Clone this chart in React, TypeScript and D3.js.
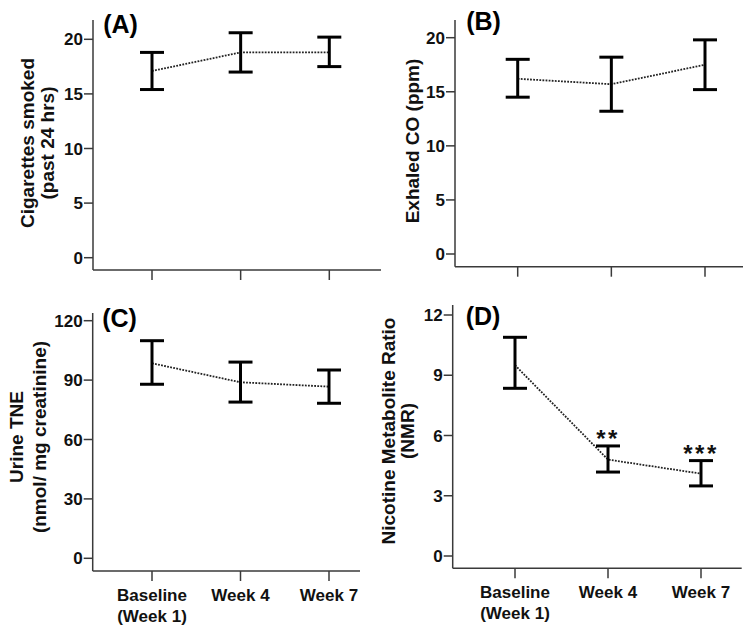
import * as d3 from "d3";

// time points
const categories = ["Baseline (Week 1)", "Week 4", "Week 7"];
const categoryLines = [["Baseline", "(Week 1)"], ["Week 4"], ["Week 7"]];

// (A) cigarettes smoked, past 24 hrs
const cigMean = [17.1, 18.8, 18.8];
const cigLow = [15.4, 17.0, 17.5];
const cigHigh = [18.8, 20.6, 20.2];
const cigTicks = [0, 5, 10, 15, 20];

// (B) exhaled CO, ppm
const coMean = [16.2, 15.7, 17.5];
const coLow = [14.5, 13.2, 15.2];
const coHigh = [18.0, 18.2, 19.8];
const coTicks = [0, 5, 10, 15, 20];

// (C) urine TNE, nmol/mg creatinine
const tneMean = [98.5, 88.9, 86.7];
const tneLow = [87.9, 78.9, 78.3];
const tneHigh = [109.9, 99.1, 95.1];
const tneTicks = [0, 30, 60, 90, 120];

// (D) nicotine metabolite ratio
const nmrMean = [9.5, 4.8, 4.1];
const nmrLow = [8.35, 4.18, 3.49];
const nmrHigh = [10.89, 5.48, 4.75];
const nmrTicks = [0, 3, 6, 9, 12];
const nmrStars = ["", "**", "***"];

const FONT = "'Liberation Sans', Arial, Helvetica, sans-serif";

type Panel = {
  tag: string;
  mean: number[];
  low: number[];
  high: number[];
  ticks: number[];
  stars?: string[];
  title: string[];
  showX: boolean;
  // layout
  axisX: number;
  axisEnd: number;
  axisTop: number;
  yTop: number;
  yBottom: number;
  axisY: number;
  cat: [number, number];
  titleX: number[];
  titleY: number;
  tagPos: [number, number];
};

const panels: Panel[] = [
  {
    tag: "(A)", mean: cigMean, low: cigLow, high: cigHigh, ticks: cigTicks,
    title: ["Cigarettes smoked", "(past 24 hrs)"], showX: false,
    axisX: 93, axisEnd: 381, axisTop: 20, yTop: 39.3, yBottom: 257.7, axisY: 270,
    cat: [152, 329.3], titleX: [27, 47], titleY: 143, tagPos: [120.5, 24],
  },
  {
    tag: "(B)", mean: coMean, low: coLow, high: coHigh, ticks: coTicks,
    title: ["Exhaled CO (ppm)"], showX: false,
    axisX: 455, axisEnd: 743, axisTop: 20, yTop: 37.7, yBottom: 254, axisY: 266.7,
    cat: [517.7, 705], titleX: [412], titleY: 141, tagPos: [483.5, 21],
  },
  {
    tag: "(C)", mean: tneMean, low: tneLow, high: tneHigh, ticks: tneTicks,
    title: ["Urine TNE", "(nmol/ mg creatinine)"], showX: true,
    axisX: 92.7, axisEnd: 360, axisTop: 313, yTop: 320.7, yBottom: 558.3, axisY: 571,
    cat: [152, 329], titleX: [16, 39.5], titleY: 437, tagPos: [119.5, 317.5],
  },
  {
    tag: "(D)", mean: nmrMean, low: nmrLow, high: nmrHigh, ticks: nmrTicks, stars: nmrStars,
    title: ["Nicotine Metabolite Ratio", "(NMR)"], showX: true,
    axisX: 452.7, axisEnd: 741.7, axisTop: 305, yTop: 315, yBottom: 556, axisY: 568.3,
    cat: [515, 701], titleX: [388, 407.5], titleY: 431, tagPos: [483, 316],
  },
];

function PanelView({ p }: { p: Panel }) {
  const y = d3
    .scaleLinear()
    .domain([0, d3.max(p.ticks)!])
    .range([p.yBottom, p.yTop]);
  const x = d3.scalePoint<string>().domain(categories).range(p.cat);
  const line = d3
    .line<number>()
    .x((_d, i) => x(categories[i])!)
    .y((d) => y(d));
  const axisColor = "#3a3a3a";
  const cap = 12;

  return (
    <g>
      {/* axes */}
      <line x1={p.axisX} x2={p.axisX} y1={p.axisTop} y2={p.axisY} stroke={axisColor} strokeWidth={1.5} />
      <line x1={p.axisX} x2={p.axisEnd} y1={p.axisY} y2={p.axisY} stroke={axisColor} strokeWidth={1.5} />
      {p.ticks.map((t) => (
        <g key={t}>
          <line x1={p.axisX - 9} x2={p.axisX} y1={y(t)} y2={y(t)} stroke={axisColor} strokeWidth={1.5} />
          <text
            x={p.axisX - 10}
            y={y(t)}
            dy="0.36em"
            textAnchor="end"
            fontFamily={FONT}
            fontWeight="bold"
            fontSize={17}
            fill="#111"
          >
            {t}
          </text>
        </g>
      ))}
      {categories.map((c, i) => (
        <g key={c}>
          <line x1={x(c)} x2={x(c)} y1={p.axisY} y2={p.axisY + 10} stroke={axisColor} strokeWidth={1.5} />
          {p.showX &&
            categoryLines[i].map((s, k) => (
              <text
                key={k}
                x={x(c)}
                y={p.axisY + 30 + k * 21}
                textAnchor="middle"
                fontFamily={FONT}
                fontWeight="bold"
                fontSize={17}
                fill="#111"
              >
                {s}
              </text>
            ))}
        </g>
      ))}

      {/* axis title */}
      {p.title.map((s, k) => (
        <text
          key={k}
          transform={`translate(${p.titleX[k]},${p.titleY}) rotate(-90)`}
          textAnchor="middle"
          dominantBaseline="central"
          fontFamily={FONT}
          fontWeight="bold"
          fontSize={19}
          fill="#111"
        >
          {s}
        </text>
      ))}

      {/* panel tag */}
      <text
        x={p.tagPos[0]}
        y={p.tagPos[1]}
        textAnchor="middle"
        dominantBaseline="central"
        fontFamily={FONT}
        fontWeight="bold"
        fontSize={25}
        fill="#000"
      >
        {p.tag}
      </text>

      {/* mean trend */}
      <path d={line(p.mean) || ""} fill="none" stroke="#222" strokeWidth={1.8} strokeDasharray="1.8,1.3" />

      {/* error bars */}
      {categories.map((c, i) => {
        const cx = x(c)!;
        return (
          <g key={c} stroke="#000" strokeWidth={3}>
            <line x1={cx} x2={cx} y1={y(p.low[i])} y2={y(p.high[i])} />
            <line x1={cx - cap} x2={cx + cap} y1={y(p.low[i])} y2={y(p.low[i])} />
            <line x1={cx - cap} x2={cx + cap} y1={y(p.high[i])} y2={y(p.high[i])} />
          </g>
        );
      })}

      {p.stars &&
        p.stars.map((s, i) =>
          s ? (
            <text
              key={i}
              x={x(categories[i])}
              y={y(p.high[i]) + 1}
              textAnchor="middle"
              fontFamily={FONT}
              fontWeight="bold"
              fontSize={24}
              letterSpacing={2.5}
              fill="#111"
            >
              {s}
            </text>
          ) : null
        )}
    </g>
  );
}

export default function App() {
  return (
    <div style={{ position: "absolute", left: 0, top: 0, background: "#fff" }}>
      <svg width={750} height={633} style={{ display: "block" }}>
        <rect width={750} height={633} fill="#fff" />
        {panels.map((p) => (
          <PanelView key={p.tag} p={p} />
        ))}
      </svg>
    </div>
  );
}
